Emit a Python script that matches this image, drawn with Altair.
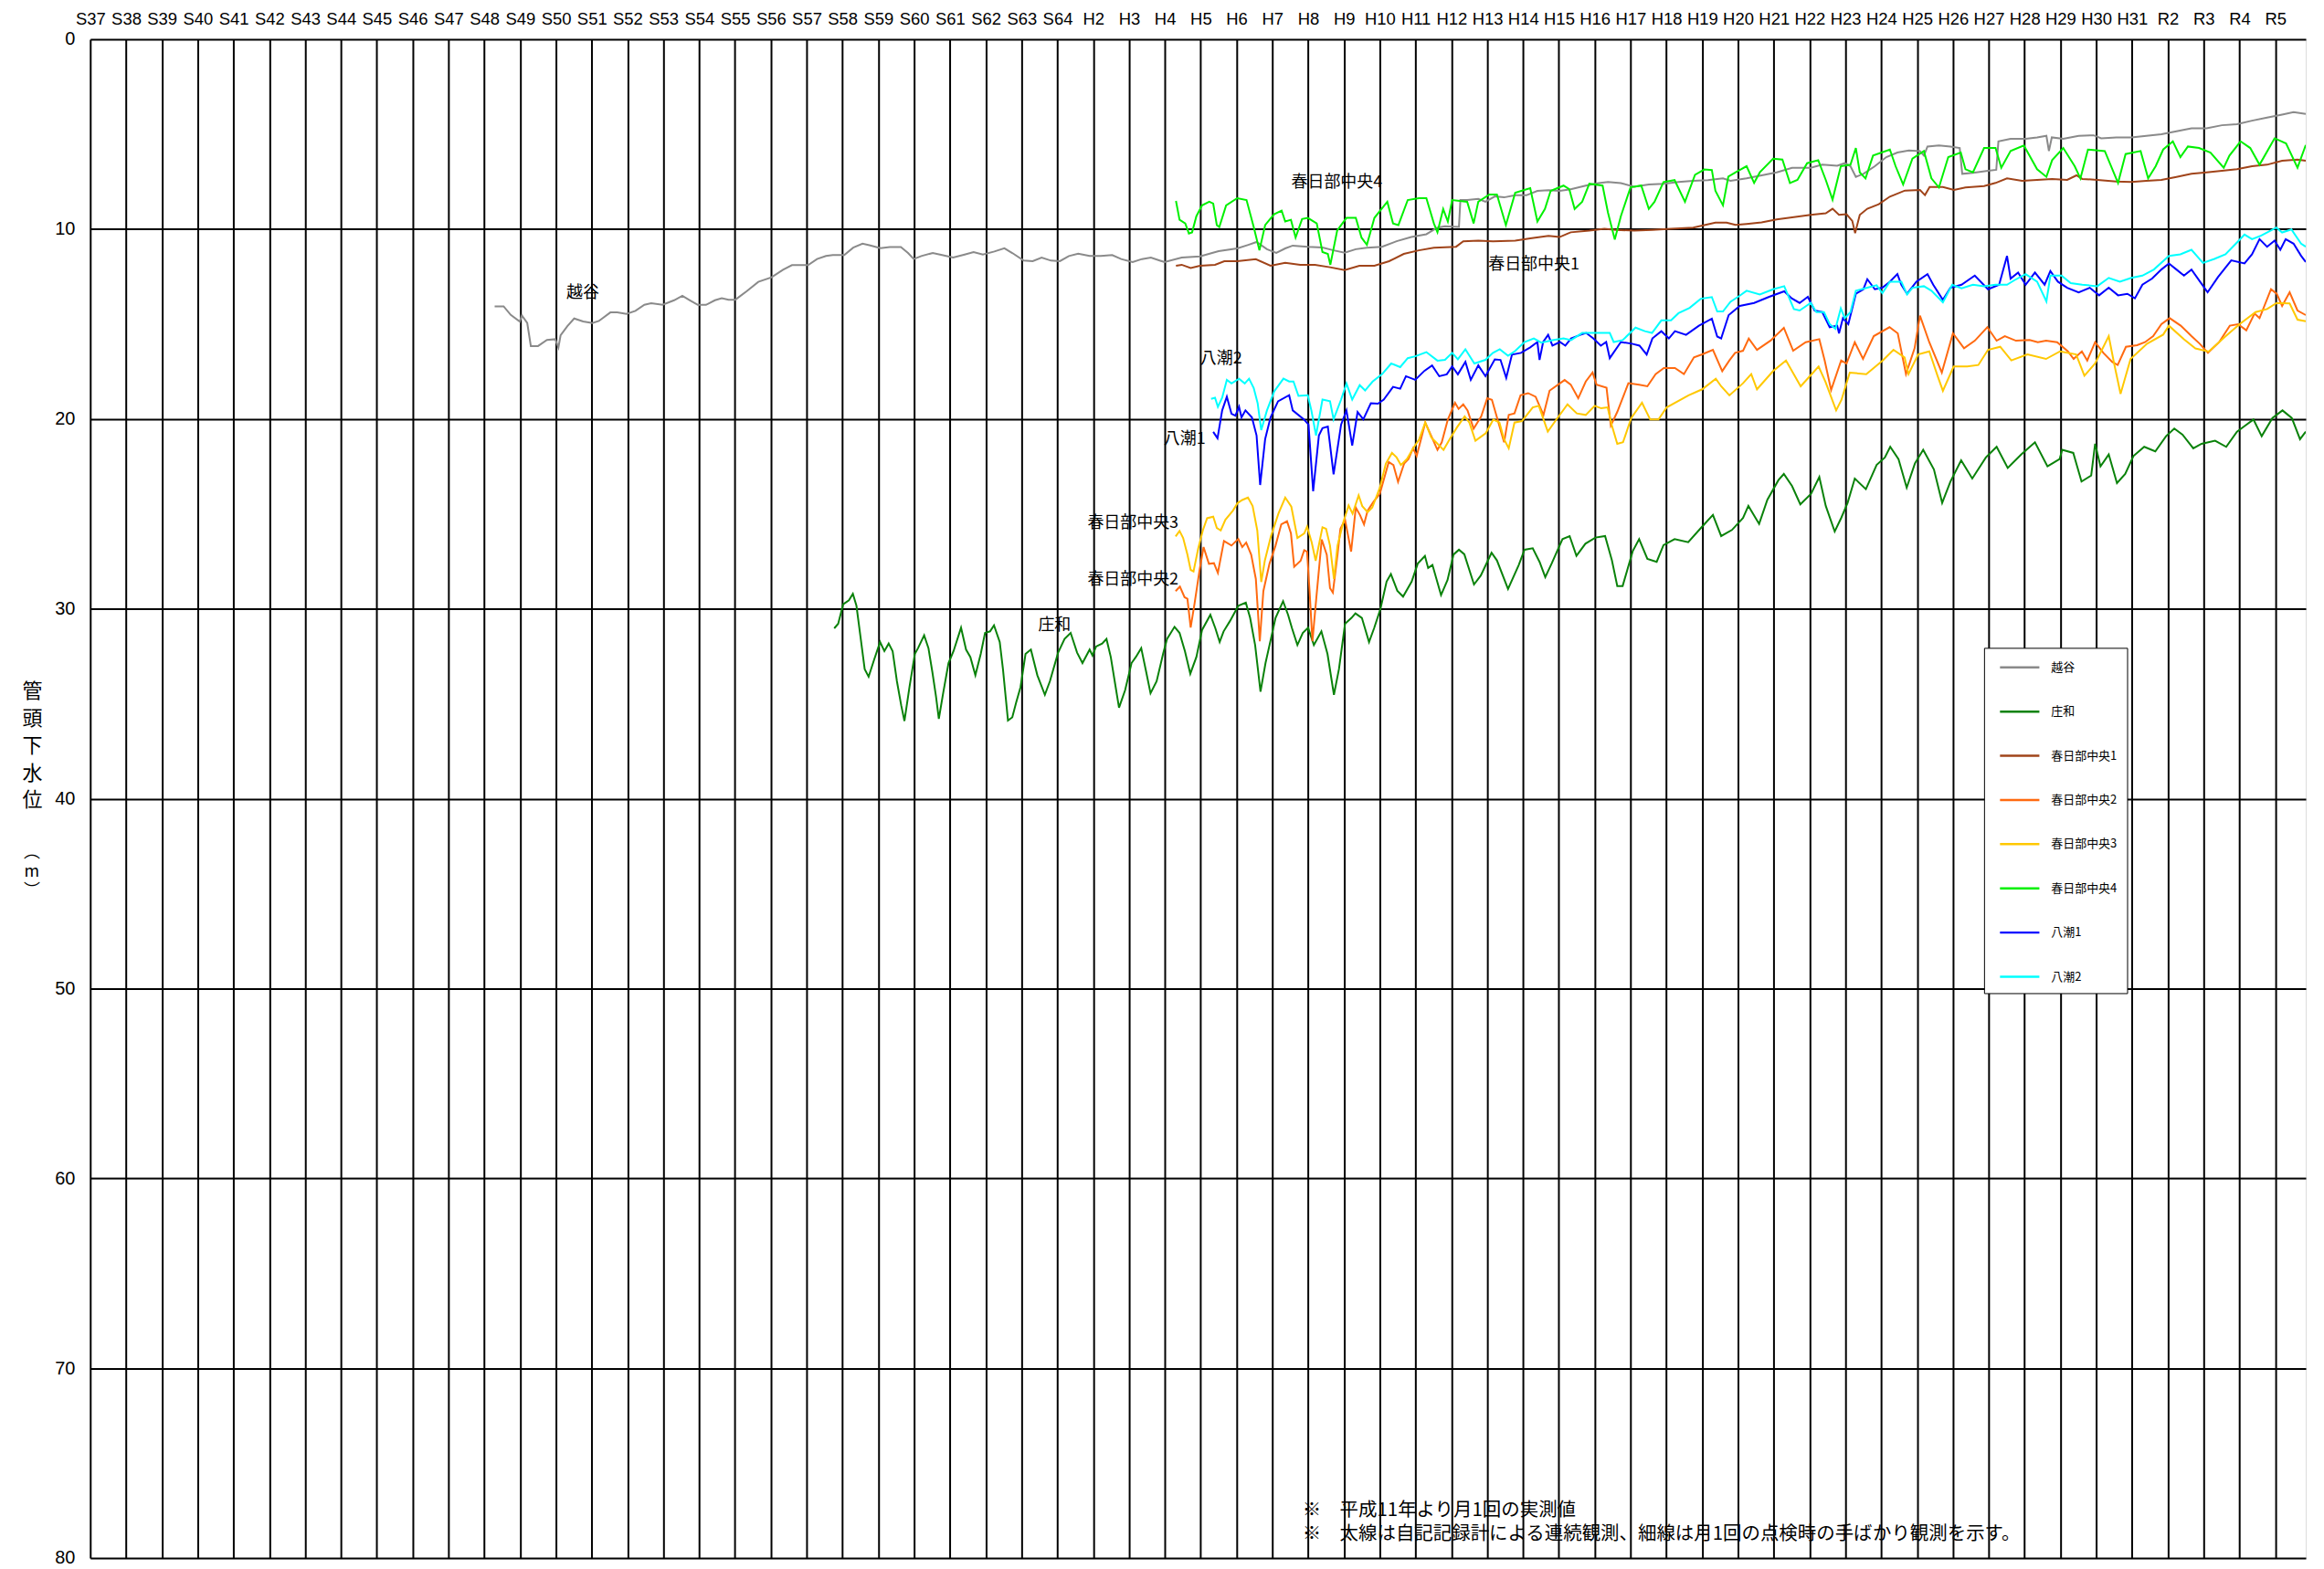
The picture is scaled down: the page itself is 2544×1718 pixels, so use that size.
import altair as alt
import pandas as pd

# ---------------- axis labels ----------------
year_ticks = list(range(1962, 2024))
era_labels = ["S37", "S38", "S39", "S40", "S41", "S42", "S43", "S44", "S45", "S46",
              "S47", "S48", "S49", "S50", "S51", "S52", "S53", "S54", "S55", "S56",
              "S57", "S58", "S59", "S60", "S61", "S62", "S63", "S64", "H2", "H3",
              "H4", "H5", "H6", "H7", "H8", "H9", "H10", "H11", "H12", "H13",
              "H14", "H15", "H16", "H17", "H18", "H19", "H20", "H21", "H22", "H23",
              "H24", "H25", "H26", "H27", "H28", "H29", "H30", "H31", "R2", "R3",
              "R4", "R5"]
depth_ticks = [0, 10, 20, 30, 40, 50, 60, 70, 80]

series_names = ["越谷", "庄和", "春日部中央1", "春日部中央2", "春日部中央3", "春日部中央4", "八潮1", "八潮2"]
series_colors = ["#8a8a8a", "#0a820a", "#a0441a", "#ff6a10", "#ffc800", "#00f000", "#0000ff", "#00ffff"]

# ---------------- series (year, depth in m) ----------------
koshigaya_year = [1973.29, 1973.54, 1973.74, 1973.99, 1974.05, 1974.2, 1974.3, 1974.5, 1974.75, 1974.98,
                  1975.07, 1975.13, 1975.32, 1975.51, 1975.76, 1976.02, 1976.2, 1976.52, 1976.71, 1976.97,
                  1977.22, 1977.47, 1977.66, 1977.98, 1978.3, 1978.53, 1978.74, 1978.96, 1979.19, 1979.44,
                  1979.63, 1979.82, 1980.01, 1980.33, 1980.65, 1981.02, 1981.34, 1981.59, 1982.04, 1982.29,
                  1982.54, 1982.73, 1983.05, 1983.3, 1983.56, 1983.75, 1984.06, 1984.32, 1984.63, 1984.83,
                  1984.99, 1985.2, 1985.52, 1985.78, 1986.09, 1986.41, 1986.66, 1986.92, 1987.24, 1987.52,
                  1987.74, 1988.06, 1988.31, 1988.56, 1988.82, 1989.07, 1989.32, 1989.58, 1989.9, 1990.21,
                  1990.53, 1990.78, 1991.1, 1991.36, 1991.61, 1991.99, 1992.47, 1992.98, 1993.5, 1994.02,
                  1994.33, 1994.56, 1994.85, 1995.11, 1995.36, 1995.57, 1995.99, 1996.4, 1996.71, 1997.02,
                  1997.33, 1997.64, 1998.06, 1998.47, 1998.88, 1999.3, 1999.61, 1999.82, 2000.21, 2000.25,
                  2000.44, 2000.75, 2000.95, 2001.21, 2001.47, 2001.78, 2002.09, 2002.4, 2002.71, 2003.02,
                  2003.33, 2003.75, 2004.11, 2004.37, 2004.73, 2005.1, 2005.51, 2005.92, 2006.34, 2006.75,
                  2007.16, 2007.58, 2007.79, 2008.24, 2008.66, 2009.08, 2009.51, 2010.03, 2010.35, 2010.77,
                  2010.98, 2011.14, 2011.29, 2011.5, 2011.82, 2012.14, 2012.45, 2012.77, 2013.08, 2013.19,
                  2013.29, 2013.61, 2013.93, 2014.19, 2014.26, 2014.56, 2014.98, 2015.21, 2015.27, 2015.61,
                  2016.03, 2016.35, 2016.61, 2016.68, 2016.76, 2017.08, 2017.51, 2017.93, 2018.14, 2018.56,
                  2018.98, 2019.4, 2019.82, 2020.24, 2020.66, 2021.08, 2021.51, 2021.93, 2022.35, 2022.77,
                  2023.19, 2023.51, 2023.85]
koshigaya_depth = [14.07, 14.07, 14.52, 14.87, 14.55, 14.95, 16.16, 16.16, 15.84, 15.8,
                   16.24, 15.6, 15.11, 14.71, 14.87, 14.95, 14.84, 14.39, 14.39, 14.47,
                   14.31, 13.99, 13.91, 13.99, 13.75, 13.51, 13.75, 13.99, 13.99, 13.75,
                   13.64, 13.72, 13.72, 13.27, 12.78, 12.54, 12.14, 11.9, 11.9, 11.58,
                   11.42, 11.37, 11.37, 10.98, 10.77, 10.85, 11.01, 10.95, 10.95, 11.26,
                   11.58, 11.42, 11.26, 11.37, 11.5, 11.34, 11.21, 11.34, 11.18, 11.01,
                   11.26, 11.66, 11.69, 11.5, 11.66, 11.69, 11.42, 11.3, 11.42, 11.42,
                   11.37, 11.58, 11.74, 11.58, 11.5, 11.74, 11.5, 11.44, 11.16, 11.02,
                   10.83, 10.68, 11.06, 11.25, 11.02, 10.87, 10.93, 10.97, 11.12, 11.25,
                   11.06, 10.98, 10.93, 10.64, 10.42, 10.27, 9.92, 9.85, 9.89, 8.47,
                   8.47, 8.41, 8.56, 8.28, 8.33, 8.22, 8.22, 7.99, 7.95, 7.99,
                   7.9, 7.71, 7.58, 7.52, 7.58, 7.77, 7.65, 7.61, 7.52, 7.46,
                   7.42, 7.33, 7.46, 7.33, 7.17, 7.01, 6.77, 6.77, 6.61, 6.66,
                   6.53, 6.69, 7.25, 7.09, 6.69, 6.21, 5.97, 5.86, 5.89, 6.13,
                   5.65, 5.6, 5.65, 5.73, 7.09, 7.04, 6.93, 6.88, 5.38, 5.25,
                   5.25, 5.17, 5.09, 5.89, 5.17, 5.25, 5.09, 5.06, 5.22, 5.17,
                   5.17, 5.09, 5.01, 4.85, 4.69, 4.69, 4.53, 4.48, 4.29, 4.13,
                   3.97, 3.84, 3.94]

shouwa_year = [1982.77, 1982.88, 1983.02, 1983.18, 1983.29, 1983.39, 1983.5, 1983.62, 1983.73, 1983.88,
               1984.05, 1984.17, 1984.29, 1984.4, 1984.52, 1984.64, 1984.73, 1984.87, 1985.02, 1985.11,
               1985.28, 1985.4, 1985.51, 1985.61, 1985.69, 1985.81, 1985.96, 1986.1, 1986.31, 1986.45,
               1986.57, 1986.71, 1986.86, 1986.98, 1987.12, 1987.23, 1987.39, 1987.48, 1987.62, 1987.74,
               1987.85, 1987.97, 1988.11, 1988.26, 1988.44, 1988.65, 1988.79, 1989.02, 1989.2, 1989.37,
               1989.55, 1989.7, 1989.9, 1989.98, 1990.08, 1990.25, 1990.37, 1990.49, 1990.6, 1990.72,
               1990.89, 1991.07, 1991.19, 1991.34, 1991.48, 1991.6, 1991.77, 1991.95, 1992.06, 1992.27,
               1992.41, 1992.56, 1992.71, 1992.88, 1993.04, 1993.27, 1993.41, 1993.53, 1993.64, 1993.82,
               1994.05, 1994.26, 1994.38, 1994.52, 1994.67, 1994.81, 1994.96, 1995.09, 1995.3, 1995.44,
               1995.55, 1995.7, 1995.85, 1996.0, 1996.16, 1996.37, 1996.54, 1996.72, 1996.86, 1997.03,
               1997.21, 1997.32, 1997.5, 1997.7, 1997.84, 1998.02, 1998.19, 1998.31, 1998.49, 1998.65,
               1998.89, 1999.06, 1999.26, 1999.35, 1999.47, 1999.71, 1999.89, 2000.06, 2000.21, 2000.36,
               2000.63, 2000.82, 2001.12, 2001.27, 2001.58, 2001.88, 2002.04, 2002.27, 2002.46, 2002.62,
               2002.8, 2003.1, 2003.3, 2003.49, 2003.74, 2004.02, 2004.29, 2004.48, 2004.63, 2004.78,
               2005.06, 2005.24, 2005.47, 2005.73, 2005.92, 2006.23, 2006.61, 2006.99, 2007.3, 2007.53,
               2007.83, 2008.14, 2008.29, 2008.59, 2008.82, 2009.13, 2009.28, 2009.51, 2009.74, 2010.04,
               2010.27, 2010.45, 2010.7, 2010.88, 2011.06, 2011.26, 2011.57, 2011.87, 2012.1, 2012.25,
               2012.48, 2012.71, 2012.94, 2013.17, 2013.47, 2013.7, 2013.93, 2014.23, 2014.54, 2014.92,
               2015.22, 2015.53, 2015.91, 2016.29, 2016.64, 2016.98, 2017.05, 2017.36, 2017.59, 2017.86,
               2017.97, 2018.12, 2018.35, 2018.58, 2018.81, 2019.04, 2019.34, 2019.65, 2019.95, 2020.18,
               2020.41, 2020.71, 2020.94, 2021.32, 2021.63, 2021.93, 2022.16, 2022.39, 2022.62, 2022.92,
               2023.2, 2023.46, 2023.69, 2023.85]
shouwa_depth = [31.03, 30.79, 29.76, 29.55, 29.21, 29.84, 31.43, 33.18, 33.58, 32.7,
                31.75, 32.23, 31.83, 32.23, 33.82, 35.09, 35.91, 34.13, 32.38, 32.07,
                31.4, 32.07, 33.34, 34.61, 35.8, 34.45, 32.86, 32.23, 31.0, 32.15,
                32.54, 33.5, 32.38, 31.27, 31.19, 30.87, 31.75, 33.18, 35.88, 35.72,
                34.93, 34.13, 32.38, 32.15, 33.5, 34.53, 33.82, 32.31, 31.59, 31.27,
                32.31, 32.86, 32.15, 32.46, 31.99, 31.83, 31.59, 32.54, 33.82, 35.21,
                34.29, 32.86, 32.54, 32.07, 33.34, 34.45, 33.82, 32.38, 31.59, 30.95,
                31.27, 32.23, 33.42, 32.54, 31.11, 30.32, 31.03, 31.75, 31.19, 30.64,
                29.84, 29.68, 30.48, 31.91, 34.37, 32.86, 31.59, 30.48, 29.6, 30.32,
                31.03, 31.91, 31.27, 31.0, 31.91, 31.19, 32.38, 34.53, 33.18, 30.79,
                30.48, 30.24, 30.48, 31.75, 31.03, 30.0, 28.57, 28.17, 29.05, 29.36,
                28.57, 27.62, 27.22, 27.85, 27.69, 29.28, 28.49, 27.14, 26.89, 27.13,
                28.72, 28.25, 27.05, 27.45, 28.96, 27.69, 26.89, 26.81, 27.53, 28.33,
                27.61, 26.33, 26.17, 27.21, 26.57, 26.25, 26.17, 27.45, 28.8, 28.8,
                26.97, 26.33, 27.37, 27.53, 26.65, 26.33, 26.49, 25.69, 25.06, 26.17,
                25.85, 25.22, 24.58, 25.53, 24.26, 23.22, 22.9, 23.54, 24.5, 23.94,
                23.06, 24.58, 25.93, 25.22, 24.42, 23.14, 23.7, 22.42, 22.03, 21.47,
                22.11, 23.62, 22.34, 21.63, 22.66, 24.42, 23.3, 22.18, 23.14, 22.03,
                21.47, 22.58, 21.87, 21.23, 22.5, 22.11, 21.63, 21.79, 23.3, 22.98,
                21.31, 22.5, 21.87, 23.38, 22.9, 21.95, 21.47, 21.71, 20.91, 20.51,
                20.83, 21.55, 21.31, 21.15, 21.47, 20.67, 20.35, 20.03, 20.91, 19.95,
                19.55, 19.95, 21.07, 20.67]

kasukabe1_year = [1992.31, 1992.47, 1992.72, 1992.98, 1993.4, 1993.66, 1994.02, 1994.54, 1994.95, 1995.36,
                  1995.78, 1996.19, 1996.61, 1997.02, 1997.43, 1997.85, 1998.26, 1998.67, 1999.09, 1999.51,
                  2000.13, 2000.33, 2000.75, 2001.16, 2001.78, 2002.2, 2002.71, 2003.02, 2003.33, 2003.85,
                  2004.27, 2004.58, 2005.1, 2005.61, 2006.13, 2006.75, 2007.37, 2007.68, 2007.93, 2008.24,
                  2008.66, 2009.08, 2009.51, 2010.03, 2010.45, 2010.64, 2010.82, 2011.03, 2011.19, 2011.27,
                  2011.4, 2011.61, 2011.93, 2012.24, 2012.66, 2013.08, 2013.22, 2013.35, 2013.72, 2014.03,
                  2014.35, 2014.87, 2015.19, 2015.51, 2015.93, 2016.35, 2016.77, 2017.19, 2017.45, 2017.61,
                  2018.03, 2018.56, 2018.98, 2019.4, 2019.82, 2020.24, 2020.66, 2021.08, 2021.51, 2021.93,
                  2022.35, 2022.77, 2023.19, 2023.62, 2023.85]
kasukabe1_depth = [11.93, 11.88, 12.05, 11.93, 11.88, 11.69, 11.69, 11.59, 11.93, 11.78,
                   11.88, 11.88, 12.01, 12.16, 11.93, 11.93, 11.69, 11.31, 11.12, 10.98,
                   10.93, 10.64, 10.61, 10.64, 10.61, 10.49, 10.36, 10.42, 10.17, 10.08,
                   9.98, 10.04, 10.08, 10.04, 9.98, 9.92, 9.66, 9.66, 9.78, 9.73,
                   9.65, 9.49, 9.38, 9.25, 9.17, 8.93, 9.25, 9.22, 9.57, 10.21,
                   9.25, 8.93, 8.69, 8.29, 7.97, 7.94, 8.21, 7.78, 7.78, 7.94,
                   7.81, 7.73, 7.57, 7.33, 7.46, 7.41, 7.36, 7.41, 7.17, 7.36,
                   7.41, 7.49, 7.52, 7.46, 7.41, 7.25, 7.09, 7.01, 6.93, 6.85,
                   6.69, 6.61, 6.4, 6.34, 6.4]

kasukabe2_year = [1992.3, 1992.42, 1992.55, 1992.63, 1992.72, 1992.83, 1992.97, 1993.08, 1993.23, 1993.37,
                  1993.48, 1993.65, 1993.86, 1994.05, 1994.16, 1994.27, 1994.41, 1994.54, 1994.65, 1994.75,
                  1994.92, 1995.09, 1995.25, 1995.41, 1995.52, 1995.61, 1995.79, 1995.89, 1995.97, 1996.04,
                  1996.12, 1996.23, 1996.38, 1996.52, 1996.61, 1996.69, 1996.82, 1996.9, 1997.03, 1997.2,
                  1997.33, 1997.45, 1997.56, 1997.66, 1997.83, 1998.0, 1998.25, 1998.38, 1998.51, 1998.68,
                  1998.8, 1998.93, 1999.03, 1999.27, 1999.44, 1999.61, 1999.73, 1999.9, 2000.1, 2000.2,
                  2000.33, 2000.45, 2000.62, 2000.83, 2001.0, 2001.13, 2001.3, 2001.47, 2001.6, 2001.76,
                  2001.93, 2002.14, 2002.35, 2002.57, 2002.74, 2003.16, 2003.33, 2003.54, 2003.75, 2003.94,
                  2004.05, 2004.33, 2004.45, 2004.63, 2004.94, 2005.24, 2005.47, 2005.7, 2005.93, 2006.24,
                  2006.49, 2006.77, 2007.0, 2007.3, 2007.56, 2007.76, 2007.92, 2008.14, 2008.3, 2008.53,
                  2008.91, 2009.28, 2009.54, 2009.89, 2010.27, 2010.42, 2010.6, 2010.88, 2011.03, 2011.26,
                  2011.49, 2011.79, 2012.23, 2012.46, 2012.69, 2012.93, 2013.08, 2013.34, 2013.69, 2014.0,
                  2014.31, 2014.61, 2014.96, 2015.22, 2015.45, 2015.76, 2016.14, 2016.37, 2016.6, 2016.91,
                  2017.21, 2017.37, 2017.6, 2017.75, 2017.97, 2018.2, 2018.45, 2018.6, 2018.83, 2019.14,
                  2019.36, 2019.59, 2019.82, 2020.05, 2020.36, 2020.66, 2020.89, 2021.12, 2021.43, 2021.73,
                  2021.96, 2022.19, 2022.42, 2022.56, 2022.88, 2023.04, 2023.19, 2023.4, 2023.62, 2023.85]
kasukabe2_depth = [29.07, 28.83, 29.39, 29.47, 30.99, 29.71, 27.95, 26.75, 27.63, 27.6,
                   28.11, 26.43, 26.67, 26.32, 26.75, 26.51, 27.15, 28.43, 31.71, 29.07,
                   27.63, 26.67, 25.55, 25.39, 26.03, 27.79, 27.47, 26.91, 26.99, 29.07,
                   31.71, 29.39, 26.35, 27.15, 28.91, 29.15, 27.15, 25.79, 25.31, 26.99,
                   24.67, 25.07, 25.55, 24.83, 24.35, 23.95, 22.27, 22.43, 23.31, 22.35,
                   22.11, 21.55, 21.95, 20.19, 20.91, 21.63, 21.23, 20.03, 19.15, 19.47,
                   19.23, 19.55, 20.51, 19.87, 18.91, 18.99, 20.11, 21.23, 19.79, 19.71,
                   18.75, 18.64, 18.83, 19.79, 18.51, 17.95, 18.19, 18.91, 18.03, 17.55,
                   18.19, 18.36, 20.35, 19.63, 18.12, 18.2, 18.28, 17.64, 17.32, 17.32,
                   17.64, 16.76, 16.6, 16.36, 17.48, 16.92, 16.52, 16.41, 15.77, 16.36,
                   15.87, 15.2, 16.41, 15.96, 15.8, 16.92, 18.48, 16.92, 17.08, 15.96,
                   16.84, 15.64, 15.17, 15.49, 17.64, 16.28, 14.56, 15.96, 17.56, 15.49,
                   16.28, 15.88, 15.17, 15.88, 15.64, 15.88, 15.84, 15.96, 15.88, 15.96,
                   16.44, 16.84, 16.44, 16.92, 15.96, 16.52, 17.0, 17.16, 16.2, 16.12,
                   15.96, 15.64, 15.01, 14.69, 15.09, 15.64, 16.04, 16.52, 15.96, 15.09,
                   15.01, 15.33, 14.45, 14.69, 13.17, 13.41, 14.05, 13.33, 14.29, 14.53]

kasukabe3_year = [1992.3, 1992.41, 1992.51, 1992.63, 1992.72, 1992.8, 1992.93, 1993.06, 1993.18, 1993.35,
                  1993.45, 1993.56, 1993.69, 1993.9, 1994.03, 1994.16, 1994.32, 1994.45, 1994.58, 1994.69,
                  1994.79, 1994.96, 1995.17, 1995.36, 1995.53, 1995.7, 1995.89, 1995.97, 1996.1, 1996.21,
                  1996.4, 1996.5, 1996.61, 1996.72, 1996.82, 1996.99, 1997.13, 1997.24, 1997.41, 1997.51,
                  1997.66, 1997.79, 1998.0, 1998.17, 1998.34, 1998.47, 1998.59, 1998.76, 1998.93, 1999.1,
                  1999.27, 1999.44, 1999.57, 1999.78, 1999.95, 2000.16, 2000.37, 2000.5, 2000.67, 2000.96,
                  2001.17, 2001.34, 2001.47, 2001.6, 2001.76, 2001.97, 2002.27, 2002.44, 2002.69, 2002.9,
                  2003.24, 2003.5, 2003.75, 2004.0, 2004.18, 2004.36, 2004.48, 2004.63, 2004.79, 2005.02,
                  2005.32, 2005.55, 2005.78, 2006.01, 2006.62, 2007.0, 2007.38, 2007.53, 2007.76, 2008.14,
                  2008.37, 2008.53, 2008.98, 2009.34, 2009.75, 2009.98, 2010.25, 2010.44, 2010.74, 2010.89,
                  2011.12, 2011.58, 2012.04, 2012.34, 2012.65, 2012.76, 2013.03, 2013.34, 2013.57, 2013.72,
                  2014.02, 2014.4, 2014.71, 2014.98, 2015.32, 2015.63, 2016.08, 2016.6, 2016.99, 2017.44,
                  2017.67, 2017.97, 2018.35, 2018.5, 2018.68, 2018.96, 2019.42, 2019.87, 2020.03, 2020.45,
                  2020.77, 2021.14, 2021.61, 2022.0, 2022.45, 2022.77, 2023.04, 2023.4, 2023.62, 2023.85]
kasukabe3_depth = [26.19, 25.9, 26.27, 27.15, 27.95, 28.03, 26.83, 25.87, 25.23, 25.15,
                   25.74, 25.87, 25.31, 24.83, 24.43, 24.27, 24.14, 24.59, 25.87, 28.59,
                   27.47, 26.19, 24.99, 24.14, 24.62, 26.27, 26.03, 25.68, 26.51, 27.47,
                   25.71, 25.79, 26.67, 28.43, 26.67, 25.39, 24.56, 24.99, 24.03, 24.59,
                   24.91, 24.67, 23.63, 22.35, 21.79, 22.03, 22.43, 22.11, 21.55, 21.07,
                   20.19, 20.99, 21.23, 21.63, 21.07, 20.43, 19.87, 20.19, 21.15, 20.75,
                   20.03, 20.19, 21.07, 21.55, 20.19, 20.11, 19.39, 19.31, 20.67, 20.11,
                   19.23, 19.71, 19.79, 19.31, 19.44, 19.39, 20.35, 21.31, 21.23, 19.95,
                   19.15, 20.03, 20.03, 19.39, 18.76, 18.44, 17.88, 18.28, 18.76, 18.12,
                   17.64, 18.44, 17.48, 16.92, 18.28, 17.8, 17.24, 18.04, 19.55, 18.99,
                   17.56, 17.64, 16.92, 16.36, 16.76, 17.64, 16.6, 16.44, 17.72, 18.52,
                   17.24, 17.24, 17.16, 16.36, 16.2, 16.92, 16.6, 16.84, 16.44, 16.6,
                   17.72, 17.08, 15.64, 17.08, 18.68, 16.84, 16.04, 15.56, 15.09, 15.81,
                   16.29, 16.45, 15.65, 15.01, 14.37, 14.21, 13.89, 13.92, 14.77, 14.85]

kasukabe4_year = [1992.31, 1992.41, 1992.57, 1992.67, 1992.76, 1992.88, 1993.04, 1993.24, 1993.35, 1993.45,
                  1993.52, 1993.71, 1994.02, 1994.28, 1994.48, 1994.64, 1994.8, 1995.05, 1995.26, 1995.36,
                  1995.52, 1995.65, 1995.83, 1995.99, 1996.24, 1996.4, 1996.55, 1996.62, 1996.81, 1997.07,
                  1997.33, 1997.49, 1997.64, 1997.85, 1998.21, 1998.37, 1998.52, 1998.78, 1999.09, 1999.3,
                  1999.51, 1999.61, 1999.77, 1999.9, 2000.02, 2000.23, 2000.44, 2000.62, 2000.75, 2001.06,
                  2001.27, 2001.52, 2001.78, 2002.2, 2002.4, 2002.61, 2002.77, 2003.13, 2003.29, 2003.44,
                  2003.65, 2003.85, 2004.22, 2004.37, 2004.56, 2004.73, 2005.0, 2005.3, 2005.51, 2005.67,
                  2005.92, 2006.23, 2006.52, 2006.8, 2007.06, 2007.27, 2007.37, 2007.58, 2007.73, 2007.99,
                  2008.24, 2008.45, 2008.61, 2008.98, 2009.24, 2009.45, 2009.66, 2009.93, 2010.24, 2010.45,
                  2010.64, 2010.87, 2011.14, 2011.29, 2011.4, 2011.56, 2011.77, 2012.24, 2012.4, 2012.61,
                  2012.87, 2013.19, 2013.4, 2013.61, 2013.87, 2014.22, 2014.35, 2014.56, 2014.87, 2015.19,
                  2015.35, 2015.61, 2015.98, 2016.35, 2016.61, 2016.77, 2017.08, 2017.4, 2017.56, 2017.77,
                  2018.24, 2018.61, 2018.82, 2019.24, 2019.45, 2019.66, 2019.87, 2020.14, 2020.35, 2020.56,
                  2020.87, 2021.19, 2021.56, 2021.72, 2022.03, 2022.3, 2022.56, 2022.98, 2023.3, 2023.62,
                  2023.85]
kasukabe4_depth = [8.52, 9.51, 9.7, 10.23, 10.17, 9.32, 8.75, 8.56, 8.66, 9.79,
                   9.89, 8.75, 8.37, 8.47, 9.89, 11.12, 9.79, 9.22, 9.03, 9.6,
                   9.51, 10.45, 9.47, 9.41, 9.7, 11.21, 11.31, 11.88, 10.08, 9.41,
                   9.41, 10.45, 10.83, 9.41, 8.56, 9.7, 9.79, 8.47, 8.37, 8.37,
                   9.7, 10.17, 8.94, 9.6, 8.47, 8.52, 8.56, 9.7, 8.56, 8.18,
                   8.18, 9.79, 8.09, 7.84, 9.6, 8.94, 7.99, 7.71, 7.9, 8.94,
                   8.56, 7.61, 7.71, 9.13, 10.55, 9.32, 7.8, 7.71, 8.94, 8.56,
                   7.52, 7.42, 8.56, 7.14, 6.86, 6.89, 7.99, 8.75, 7.24, 6.95,
                   6.69, 7.57, 7.01, 6.29, 6.34, 7.57, 7.41, 6.53, 6.37, 7.41,
                   8.45, 6.69, 6.61, 5.73, 7.01, 7.33, 6.13, 5.81, 6.69, 7.65,
                   6.29, 5.89, 7.33, 7.81, 6.21, 5.97, 6.85, 7.01, 5.73, 5.73,
                   6.77, 5.89, 5.6, 6.85, 7.25, 6.37, 5.73, 6.69, 7.33, 5.81,
                   5.89, 7.57, 6.05, 5.89, 7.33, 6.69, 5.81, 5.38, 6.21, 5.65,
                   5.73, 5.97, 6.77, 6.13, 5.38, 5.73, 6.61, 5.22, 5.49, 6.77,
                   5.57]

yashio1_year = [1993.35, 1993.47, 1993.6, 1993.73, 1993.86, 1993.97, 1994.07, 1994.14, 1994.25, 1994.43,
                1994.56, 1994.66, 1994.8, 1994.95, 1995.16, 1995.47, 1995.57, 1995.88, 1996.01, 1996.14,
                1996.3, 1996.4, 1996.55, 1996.71, 1996.92, 1997.07, 1997.23, 1997.38, 1997.54, 1997.75,
                1997.95, 1998.11, 1998.37, 1998.57, 1998.73, 1998.99, 1999.25, 1999.46, 1999.66, 1999.87,
                2000.02, 2000.18, 2000.39, 2000.54, 2000.75, 2000.95, 2001.21, 2001.37, 2001.53, 2001.69,
                2001.94, 2002.2, 2002.4, 2002.46, 2002.56, 2002.7, 2002.82, 2003.03, 2003.18, 2003.34,
                2003.6, 2003.76, 2003.96, 2004.17, 2004.32, 2004.42, 2004.73, 2005.04, 2005.25, 2005.45,
                2005.61, 2005.86, 2006.07, 2006.24, 2006.55, 2006.91, 2007.27, 2007.42, 2007.53, 2007.74,
                2008.05, 2008.45, 2008.87, 2009.29, 2009.5, 2009.72, 2009.95, 2010.14, 2010.35, 2010.56,
                2010.77, 2010.82, 2010.93, 2011.08, 2011.29, 2011.5, 2011.61, 2011.82, 2012.03, 2012.24,
                2012.45, 2012.56, 2012.72, 2012.98, 2013.29, 2013.45, 2013.72, 2013.93, 2014.24, 2014.61,
                2014.98, 2015.29, 2015.51, 2015.61, 2015.82, 2016.03, 2016.29, 2016.56, 2016.72, 2016.93,
                2017.19, 2017.51, 2017.82, 2018.08, 2018.35, 2018.61, 2018.87, 2019.08, 2019.29, 2019.56,
                2019.82, 2020.03, 2020.24, 2020.45, 2020.66, 2020.93, 2021.11, 2021.4, 2021.77, 2022.14,
                2022.35, 2022.56, 2022.77, 2022.98, 2023.14, 2023.29, 2023.51, 2023.72, 2023.85]
yashio1_depth = [20.68, 21.02, 19.55, 18.83, 19.73, 19.83, 19.36, 19.92, 19.55, 19.92,
                 20.87, 23.48, 21.06, 19.92, 19.07, 18.75, 19.55, 20.02, 20.3, 23.81,
                 20.87, 20.49, 20.4, 22.92, 20.3, 19.55, 21.4, 19.64, 20.02, 19.17,
                 19.2, 18.98, 18.31, 18.41, 17.75, 17.94, 17.46, 17.18, 17.75, 17.65,
                 17.23, 17.65, 16.99, 17.94, 17.18, 17.75, 16.86, 16.89, 17.84, 16.61,
                 16.52, 16.23, 15.95, 16.89, 15.95, 15.57, 16.14, 15.95, 16.14, 15.76,
                 15.57, 15.47, 15.76, 16.14, 15.95, 16.8, 15.95, 16.04, 16.14, 16.61,
                 15.76, 15.38, 15.76, 15.38, 15.57, 15.09, 14.72, 15.66, 15.76, 14.53,
                 14.05, 13.89, 13.57, 13.28, 13.65, 13.89, 13.57, 14.29, 14.37, 15.17,
                 15.09, 15.49, 14.69, 15.01, 13.41, 13.17, 12.64, 13.17, 13.09, 12.77,
                 12.37, 12.93, 13.41, 12.77, 12.37, 12.93, 13.73, 13.09, 12.93, 12.45,
                 13.17, 12.93, 11.41, 12.61, 12.29, 12.93, 12.29, 12.93, 12.21, 12.77,
                 13.09, 13.33, 13.09, 13.49, 13.09, 13.49, 13.41, 13.65, 12.93, 12.61,
                 12.13, 11.81, 12.13, 12.45, 12.13, 12.85, 13.33, 12.53, 11.65, 11.81,
                 11.33, 10.53, 10.93, 10.61, 11.09, 10.53, 10.77, 11.41, 11.73]

yashio2_year = [1993.29, 1993.4, 1993.48, 1993.6, 1993.73, 1993.86, 1994.07, 1994.23, 1994.35, 1994.48,
                1994.59, 1994.69, 1994.85, 1995.05, 1995.31, 1995.47, 1995.59, 1995.73, 1995.99, 1996.09,
                1996.22, 1996.4, 1996.61, 1996.71, 1996.92, 1997.07, 1997.23, 1997.44, 1997.59, 1997.8,
                1998.06, 1998.32, 1998.57, 1998.78, 1998.99, 1999.3, 1999.61, 1999.82, 2000.02, 2000.18,
                2000.39, 2000.64, 2000.95, 2001.16, 2001.35, 2001.58, 2001.78, 2002.04, 2002.3, 2002.51,
                2002.82, 2003.13, 2003.34, 2003.65, 2004.06, 2004.42, 2004.53, 2004.78, 2005.14, 2005.4,
                2005.6, 2005.86, 2006.13, 2006.34, 2006.65, 2006.96, 2007.27, 2007.42, 2007.58, 2007.79,
                2008.04, 2008.24, 2008.61, 2008.98, 2009.29, 2009.56, 2009.72, 2010.03, 2010.19, 2010.4,
                2010.56, 2010.72, 2010.87, 2010.98, 2011.14, 2011.29, 2011.61, 2011.87, 2012.03, 2012.24,
                2012.56, 2012.72, 2012.87, 2013.19, 2013.4, 2013.72, 2013.98, 2014.24, 2014.56, 2014.87,
                2015.19, 2015.51, 2015.72, 2016.03, 2016.35, 2016.61, 2016.72, 2017.03, 2017.29, 2017.61,
                2018.03, 2018.35, 2018.66, 2018.98, 2019.29, 2019.61, 2020.03, 2020.35, 2020.66, 2020.98,
                2021.3, 2021.61, 2021.98, 2022.14, 2022.35, 2022.61, 2023.03, 2023.19, 2023.45, 2023.72,
                2023.85]
yashio2_depth = [18.94, 18.88, 19.36, 18.88, 17.94, 18.13, 17.88, 18.13, 17.88, 18.37,
                 19.17, 20.59, 19.55, 18.56, 17.88, 18.03, 18.03, 18.79, 18.75, 19.55,
                 20.87, 18.98, 19.07, 20.02, 18.98, 18.13, 18.98, 18.22, 18.5, 18.03,
                 17.65, 17.08, 17.27, 16.8, 16.7, 16.48, 16.93, 16.89, 16.52, 16.86,
                 16.33, 17.08, 16.89, 16.52, 16.33, 16.67, 16.42, 15.95, 15.76, 15.98,
                 15.85, 15.76, 15.85, 15.47, 15.47, 15.47, 15.95, 15.85, 15.19, 15.38,
                 15.47, 14.81, 14.81, 14.43, 14.15, 13.67, 13.58, 14.34, 14.34, 13.83,
                 13.52, 13.25, 13.44, 13.17, 13.01, 14.21, 14.29, 13.89, 14.37, 14.37,
                 15.01, 15.25, 14.18, 14.69, 14.37, 13.25, 13.09, 12.96, 13.38, 12.77,
                 12.77, 13.44, 13.09, 13.01, 13.25, 13.86, 12.93, 13.12, 12.93, 13.01,
                 12.93, 12.93, 12.69, 12.37, 12.77, 13.81, 12.45, 12.45, 12.85, 12.93,
                 13.01, 12.57, 12.77, 12.57, 12.45, 12.13, 11.41, 11.33, 11.09, 11.78,
                 11.57, 11.33, 10.61, 10.29, 10.53, 10.34, 9.92, 10.18, 10.02, 10.77,
                 10.93]

# ---------------- in-plot labels and notes ----------------
label_text = ["越谷", "庄和", "春日部中央1", "春日部中央2", "春日部中央3", "春日部中央4", "八潮1", "八潮2"]
label_year = [1975.75, 1988.92, 2002.3, 1991.11, 1991.11, 1996.8, 1992.55, 1993.57]
label_depth = [13.37, 30.88, 11.9, 28.47, 25.51, 7.55, 21.08, 16.82]

note_text = ["※　平成11年より月1回の実測値",
             "※　太線は自記記録計による連続観測、細線は月1回の点検時の手ばかり観測を示す。"]
note_year = [1995.84, 1995.84]
note_depth = [77.5, 78.75]

# ---------------- tables ----------------
series_data = [
    ("越谷", koshigaya_year, koshigaya_depth),
    ("庄和", shouwa_year, shouwa_depth),
    ("春日部中央1", kasukabe1_year, kasukabe1_depth),
    ("春日部中央2", kasukabe2_year, kasukabe2_depth),
    ("春日部中央3", kasukabe3_year, kasukabe3_depth),
    ("春日部中央4", kasukabe4_year, kasukabe4_depth),
    ("八潮1", yashio1_year, yashio1_depth),
    ("八潮2", yashio2_year, yashio2_depth),
]
frames = []
for name, ys, ds in series_data:
    frames.append(pd.DataFrame({"series": name, "year": ys, "depth": ds}))
df = pd.concat(frames, ignore_index=True)

df_labels = pd.DataFrame({"text": label_text, "year": label_year, "depth": label_depth})
df_notes = pd.DataFrame({"text": note_text, "year": note_year, "depth": note_depth})

# ---------------- encodings ----------------
labels_js = "[" + ",".join("'" + s + "'" for s in era_labels) + "]"
JP = "Noto Sans CJK JP"

x_enc = alt.X(
    "year:Q",
    scale=alt.Scale(domain=[1962, 2023.85], nice=False, zero=False),
    axis=alt.Axis(
        orient="top", values=year_ticks, labelExpr=labels_js + "[round(datum.value) - 1962]",
        grid=True, gridColor="black", gridWidth=2, gridOpacity=1,
        ticks=False, domain=False, title=None,
        labelFont="Liberation Sans, Arial, sans-serif",
        labelFontSize=18.5, labelColor="black", labelPadding=12,
        labelFlush=False, labelOverlap=False, labelBound=False,
    ),
)
y_enc = alt.Y(
    "depth:Q",
    scale=alt.Scale(domain=[0, 80], reverse=True, nice=False, zero=False),
    axis=alt.Axis(
        values=depth_ticks, grid=True, gridColor="black", gridWidth=2, gridOpacity=1,
        ticks=False, domain=False,
        labelFont="Liberation Sans, Arial, sans-serif", labelFontSize=20, labelColor="black",
        labelPadding=17,
        title=["管", "頭", "下", "水", "位"], titleAngle=0, titleX=-64, titleY=705,
        titleAlign="center", titleBaseline="top", titleFont=JP, titleFontSize=22,
        titleFontWeight="normal", titleLineHeight=30, titleColor="black",
    ),
)

legend = alt.Legend(
    title=None, orient="none", legendX=2078, legendY=668, direction="vertical",
    fillColor="white", strokeColor="black", padding=11,
    symbolType="M-2.4,0H2.4", symbolSize=324, symbolStrokeWidth=2.5,
    symbolOffset=17.6, labelOffset=24, rowPadding=30.5,
    labelFont=JP, labelColor="black", labelLimit=400, labelFontSize=13,
)

lines = alt.Chart(df).mark_line(strokeWidth=2, clip=True).encode(
    x=x_enc,
    y=y_enc,
    color=alt.Color(
        "series:N",
        scale=alt.Scale(domain=series_names, range=series_colors),
        sort=series_names,
        legend=legend,
    ),
)

labels = alt.Chart(df_labels).mark_text(
    font=JP, fontSize=18, color="black", align="center", baseline="middle"
).encode(x=x_enc, y=y_enc, text="text:N")

notes = alt.Chart(df_notes).mark_text(
    font=JP, fontSize=20.5, color="black", align="left", baseline="middle"
).encode(x=x_enc, y=y_enc, text="text:N")

unit_title = alt.Chart(df_notes).mark_text(
    font=JP, fontSize=18, color="black", align="center", baseline="middle", lineHeight=21
).encode(
    x=alt.value(-64), y=alt.value(893), text=alt.value(["︵", "m", "︶"])
).transform_aggregate(n="count()")

chart = alt.layer(lines, labels, notes, unit_title).properties(
    width=2431, height=1667,
    padding={"left": 91, "top": 33, "right": 12, "bottom": 10},
    autosize=alt.AutoSizeParams(type="none"),
).configure_view(stroke="black", strokeWidth=3).configure(background="white")

chart.save("out.html", embed_options={"renderer": "svg", "actions": False})
